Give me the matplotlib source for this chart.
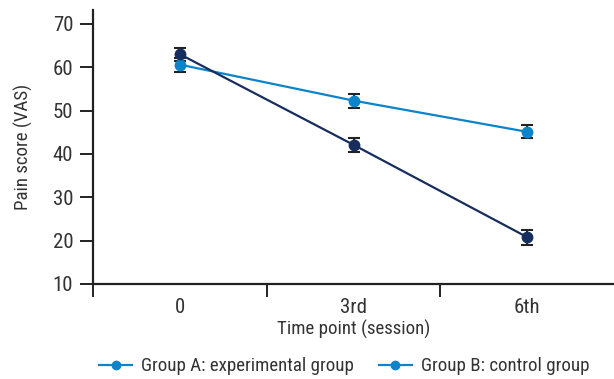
import numpy as np
import matplotlib.pyplot as plt
from matplotlib.lines import Line2D
from matplotlib import font_manager

# pick a narrow sans if one is around
names = {f.name for f in font_manager.fontManager.ttflist}
fam = 'Roboto'
for cand in ['Roboto Condensed', 'Archivo Narrow', 'PT Sans Narrow', 'Liberation Sans Narrow',
             'Arial Narrow', 'Open Sans Condensed', 'Fira Sans Condensed']:
    if cand in names:
        fam = cand
        break
plt.rcParams['font.family'] = [fam, 'DejaVu Sans']

# data
sessions = ['0', '3rd', '6th']
group_a = [63.0, 42.1, 20.8]
group_a_err = [1.5, 1.6, 1.7]
group_b = [60.6, 52.3, 45.1]
group_b_err = [1.6, 1.6, 1.5]
labels = ['Group A: experimental group', 'Group B: control group']

navy = '#172d5e'
blue = '#0b84c9'
txt = '#333333'
fs_tick = 15
fs_lab = 13.6

fig = plt.figure(figsize=(6.14, 3.79), dpi=100)
ax = fig.add_axes([0.1515, 0.2507, 0.8485, 0.7229])

x = np.arange(len(sessions))
ax.errorbar(x, group_b, yerr=group_b_err, color=blue, lw=1.6, marker='o', ms=7.5,
            ecolor='#222222', elinewidth=1.5, capsize=4.5, capthick=1.5, zorder=3)
ax.errorbar(x, group_a, yerr=group_a_err, color=navy, lw=1.6, marker='o', ms=7.5,
            ecolor='#222222', elinewidth=1.5, capsize=4.5, capthick=1.5, zorder=3)

ax.set_xlim(-0.5, 2.5)
ax.set_ylim(10, 73.2)
ax.set_yticks([10, 20, 30, 40, 50, 60, 70])
ax.set_xticks([-0.5, 0.5, 1.5])
ax.set_xticklabels([])
ax.set_xticks(x, minor=True)
ax.set_xticklabels(sessions, minor=True)
ax.tick_params(axis='x', which='major', length=9.5, width=1.4, color='#222222')
ax.tick_params(axis='x', which='minor', length=0, pad=10, labelsize=fs_tick, labelcolor=txt)
ax.tick_params(axis='y', length=9.7, width=1.4, color='#222222', labelsize=fs_tick,
               labelcolor=txt, pad=4.5)

for s in ['top', 'right']:
    ax.spines[s].set_visible(False)
for s in ['left', 'bottom']:
    ax.spines[s].set_linewidth(1.6)
    ax.spines[s].set_color('#222222')

ax.set_ylabel('Pain score (VAS)', fontsize=fs_lab, color=txt, labelpad=14)
ax.set_xlabel('Time point (session)', fontsize=fs_lab, color=txt, labelpad=2)

handles = [Line2D([], [], color=blue, lw=1.6, marker='o', ms=6) for _ in labels]
fig.legend(handles, labels, loc='lower center', bbox_to_anchor=(0.561, -0.035), ncol=2,
           frameon=False, fontsize=fs_lab, handlelength=1.75, handletextpad=0.5,
           columnspacing=1.3, labelcolor=txt)

fig.savefig('out.png', dpi=100)
